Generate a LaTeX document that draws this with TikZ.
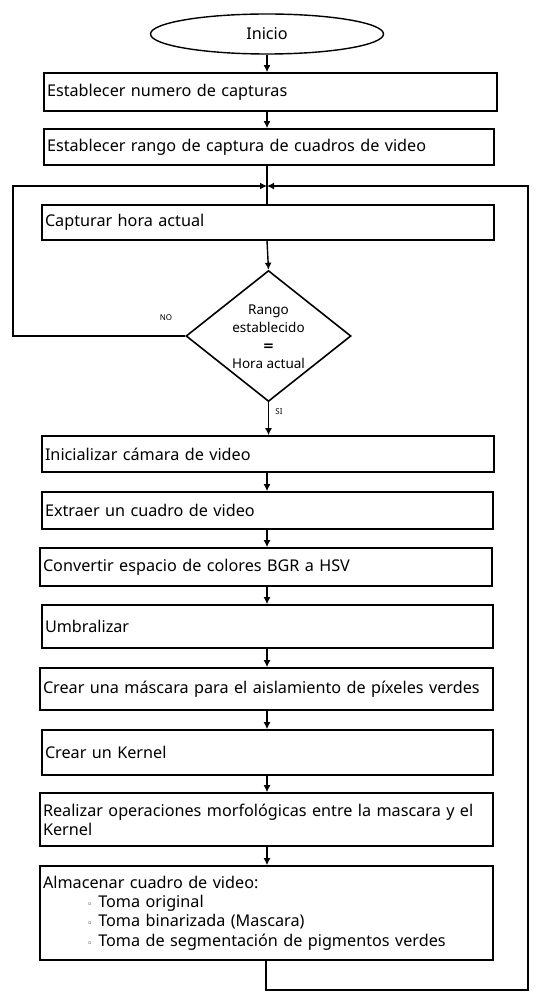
\documentclass[tikz,border=0pt]{standalone}
\usepackage{fontspec}
\setmainfont{Noto Sans}
\newfontfamily\symf{DejaVu Sans}
\usetikzlibrary{shapes.geometric,arrows.meta}
\begin{document}
\begin{tikzpicture}[x=1pt,y=-1pt,
  proc/.style={draw,line width=1.6pt,rectangle,inner xsep=3pt,inner ysep=0pt,
    align=left,font=\fontsize{16.2}{19.2}\selectfont},
  arr/.style={line width=1.4pt,-{Latex[length=7pt,width=7pt]}},
  conn/.style={line width=1.4pt},
  lbl/.style={font=\fontsize{8}{9}\selectfont}]
\useasboundingbox (0,0) rectangle (540,1000);
\node[draw,ellipse,line width=1.4pt,minimum width=233pt,minimum height=40pt,inner sep=0pt,
  font=\fontsize{16.2}{17}\selectfont] (e) at (267,34) {Inicio};
\node[proc,text width=447pt,minimum height=38pt] (b1) at (270.5,92) {\raisebox{-1pt}{Establecer numero de capturas}};
\node[proc,text width=444pt,minimum height=36pt] (b2) at (269,147) {\raisebox{-1pt}{Establecer rango de captura de cuadros de video}};
\node[proc,text width=446pt,minimum height=35pt] (b3) at (268,222.5) {\raisebox{-1pt}{Capturar hora actual}};
\node[draw,diamond,line width=1.6pt,minimum width=165pt,minimum height=131pt,inner sep=0pt] (d) at (268.5,336) {};
\node[align=center,font=\fontsize{13.5}{18}\selectfont] (dt) at (268.5,337) {Rango\\establecido\\{\symf\bfseries =}\\Hora actual};
\node[proc,text width=446pt,minimum height=36pt] (b4) at (268,454) {Inicializar cámara de video};
\node[proc,text width=445pt,minimum height=37pt] (b5) at (267.5,510.5) {Extraer un cuadro de video};
\node[proc,text width=446pt,minimum height=38pt] (b6) at (266,567) {Convertir espacio de colores BGR a HSV};
\node[proc,text width=445pt,minimum height=43pt] (b7) at (267.5,626.5) {Umbralizar};
\node[proc,text width=447pt,minimum height=42pt] (b8) at (266.5,689) {Crear una máscara para el aislamiento de píxeles verdes};
\node[proc,text width=445pt,minimum height=45pt] (b9) at (267.5,752.5) {Crear un Kernel};
\node[proc,text width=447pt,minimum height=53pt] (b10) at (266.5,819.5) {Realizar operaciones morfológicas entre la mascara y el\\Kernel};
\node[proc,text width=447pt,minimum height=94pt] (b11) at (266.5,913) {Almacenar cuadro de video:\\
  \hspace*{44pt}{\symf\fontsize{9}{19}\selectfont ◦}\hspace{6pt}Toma original\\
  \hspace*{44pt}{\symf\fontsize{9}{19}\selectfont ◦}\hspace{6pt}Toma binarizada (Mascara)\\
  \hspace*{44pt}{\symf\fontsize{9}{19}\selectfont ◦}\hspace{6pt}Toma de segmentación de pigmentos verdes};
\coordinate (J) at (267,186);
\coordinate (L) at (13,186);
\coordinate (R) at (528,186);
\coordinate (B) at (266,990);
\draw[arr] (e.south) -- (e.south |- b1.north);
\draw[arr] (b1.south -| e) -- (e.south |- b2.north);
\draw[conn] (b2.south -| e) -- (e.south |- b3.north);
\draw[arr] (b3.south -| e) -- (d.north);
\draw[arr] (d.south) -- (d.south |- b4.north);
\draw[arr] (b4.south -| e) -- (e.south |- b5.north);
\draw[arr] (b5.south -| e) -- (e.south |- b6.north);
\draw[arr] (b6.south -| e) -- (e.south |- b7.north);
\draw[arr] (b7.south -| e) -- (e.south |- b8.north);
\draw[arr] (b8.south -| e) -- (e.south |- b9.north);
\draw[arr] (b9.south -| e) -- (e.south |- b10.north);
\draw[arr] (b10.south -| e) -- (e.south |- b11.north);
\draw[arr] (d.west) -- (d.west -| L) -- (L) -- (J);
\draw[arr] (b11.south -| B) -- (B) -| (R) -- (J);
\node[lbl] (no) at (166,318) {NO};
\node[lbl] (si) at (279,412) {SI};
\end{tikzpicture}
\end{document}
